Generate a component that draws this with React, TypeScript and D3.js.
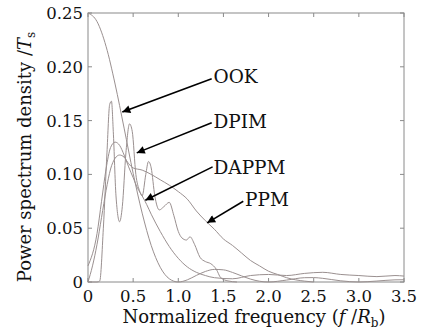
import React from "react";
import * as d3 from "d3";

// ---- data ----
const xTicks = [0, 0.5, 1.0, 1.5, 2.0, 2.5, 3.0, 3.5];
const xTickLabels = ["0", "0.5", "1.0", "1.5", "2.0", "2.5", "3.0", "3.5"];
const yTicks = [0, 0.05, 0.1, 0.15, 0.2, 0.25];
const yTickLabels = ["0", "0.05", "0.10", "0.15", "0.20", "0.25"];

const ookFreq = [0, 0.1, 0.2, 0.3, 0.4, 0.5, 0.6, 0.7, 0.8, 0.9, 1.0, 1.1, 1.2, 1.3, 1.4, 1.5, 1.6, 1.7, 1.8, 1.9, 2.0, 2.2, 2.4, 2.5, 2.6, 2.8, 3.0, 3.2, 3.4, 3.5];
const ookPsd = [0.25, 0.242, 0.219, 0.184, 0.143, 0.101, 0.064, 0.034, 0.0137, 0.003, 0, 0.002, 0.0061, 0.0098, 0.0117, 0.0113, 0.0089, 0.0057, 0.0027, 0.0007, 0, 0.0018, 0.004, 0.0041, 0.0034, 0.0011, 0, 0.0009, 0.002, 0.0021];

const dpimFreq = [0, 0.1, 0.13, 0.17, 0.21, 0.24, 0.26, 0.28, 0.31, 0.35, 0.38, 0.42, 0.46, 0.49, 0.53, 0.57, 0.6, 0.64, 0.67, 0.7, 0.74, 0.79, 0.84, 0.9, 0.95, 1.0, 1.04, 1.09, 1.13, 1.18, 1.24, 1.3, 1.36, 1.42, 1.47, 1.55, 1.65];
const dpimPsd = [0, 0, 0.001, 0.05, 0.12, 0.165, 0.168, 0.14, 0.08, 0.056, 0.07, 0.12, 0.147, 0.14, 0.1, 0.085, 0.08, 0.1, 0.112, 0.106, 0.08, 0.067, 0.07, 0.074, 0.062, 0.047, 0.041, 0.039, 0.042, 0.035, 0.023, 0.019, 0.017, 0.012, 0.004, 0.001, 0];

const dappmFreq = [0, 0.1, 0.15, 0.2, 0.25, 0.3, 0.35, 0.4, 0.45, 0.5, 0.55, 0.6, 0.65, 0.7, 0.8, 0.9, 1.0, 1.1, 1.2, 1.3, 1.4, 1.6, 1.8, 2.0, 2.2, 2.4, 2.6, 2.8, 3.0, 3.2, 3.4, 3.5];
const dappmPsd = [0.015, 0.045, 0.075, 0.105, 0.125, 0.13, 0.127, 0.118, 0.107, 0.097, 0.087, 0.08, 0.072, 0.063, 0.047, 0.033, 0.022, 0.014, 0.009, 0.006, 0.004, 0.003, 0.006, 0.007, 0.006, 0.008, 0.009, 0.007, 0.006, 0.005, 0.006, 0.0055];

const ppmFreq = [0, 0.05, 0.1, 0.15, 0.2, 0.25, 0.3, 0.35, 0.4, 0.45, 0.5, 0.6, 0.7, 0.8, 0.9, 1.0, 1.1, 1.2, 1.3, 1.4, 1.5, 1.6, 1.7, 1.8, 1.9, 2.0, 2.1, 2.2, 2.3, 2.4, 2.5];
const ppmPsd = [0, 0.015, 0.035, 0.06, 0.085, 0.105, 0.115, 0.118, 0.116, 0.11, 0.106, 0.104, 0.1, 0.095, 0.09, 0.084, 0.077, 0.066, 0.057, 0.049, 0.04, 0.034, 0.027, 0.02, 0.015, 0.01, 0.007, 0.004, 0.002, 0.0008, 0];

const seriesNames = ["OOK", "DPIM", "DAPPM", "PPM"];

export default function App() {
  const W = 434, H = 334;
  const x = d3.scaleLinear().domain([0, 3.5]).range([88, 404]);
  const y = d3.scaleLinear().domain([0, 0.25]).range([282, 13]);
  const line = d3.line<[number, number]>().x(d => x(d[0])).y(d => y(d[1])).curve(d3.curveMonotoneX);
  const series = [
    { f: ookFreq, v: ookPsd },
    { f: dpimFreq, v: dpimPsd },
    { f: dappmFreq, v: dappmPsd },
    { f: ppmFreq, v: ppmPsd },
  ];
  const font = "'DejaVu Serif', serif";
  const axisColor = "#8a8a8a";
  const curveColor = "#9a9090";

  // annotations: label position and arrow tip expressed in data space
  const notes = [
    { name: seriesNames[0], tx: 1.39, ty: 0.185, sx: 1.37, sy: 0.189, ex: 0.38, ey: 0.158 },
    { name: seriesNames[1], tx: 1.39, ty: 0.143, sx: 1.37, sy: 0.148, ex: 0.54, ey: 0.12 },
    { name: seriesNames[2], tx: 1.39, ty: 0.1, sx: 1.38, sy: 0.107, ex: 0.635, ey: 0.076 },
    { name: seriesNames[3], tx: 1.74, ty: 0.071, sx: 1.72, sy: 0.075, ex: 1.32, ey: 0.055 },
  ];

  return (
    <svg width={W} height={H} style={{ position: "absolute", left: 0, top: 0, background: "#fff" }}>
      <defs>
        <marker id="ah" viewBox="0 0 10 10" refX="10" refY="5" markerWidth="11" markerHeight="8" markerUnits="userSpaceOnUse" orient="auto">
          <path d="M0,0 L10,5 L0,10 z" fill="#000" />
        </marker>
      </defs>
      <rect x={0} y={0} width={W} height={H} fill="#fff" />
      {/* frame */}
      <rect x={x(0)} y={y(0.25)} width={x(3.5) - x(0)} height={y(0) - y(0.25)} fill="none" stroke={axisColor} strokeWidth={1} />
      {xTicks.map((t, i) => (
        <g key={"xt" + i}>
          <line x1={x(t)} x2={x(t)} y1={y(0)} y2={y(0) - 4} stroke={axisColor} />
          <line x1={x(t)} x2={x(t)} y1={y(0.25)} y2={y(0.25) + 4} stroke={axisColor} />
          <text x={x(t)} y={302} textAnchor="middle" fontFamily={font} fontSize={16.5} fill="#111">{xTickLabels[i]}</text>
        </g>
      ))}
      {yTicks.map((t, i) => (
        <g key={"yt" + i}>
          <line x1={x(0)} x2={x(0) + 4} y1={y(t)} y2={y(t)} stroke={axisColor} />
          <line x1={x(3.5)} x2={x(3.5) - 4} y1={y(t)} y2={y(t)} stroke={axisColor} />
          <text x={83} y={y(t) + 6} textAnchor="end" fontFamily={font} fontSize={16.5} fill="#111">{yTickLabels[i]}</text>
        </g>
      ))}
      {/* curves */}
      {series.map((s, i) => (
        <path key={"s" + i} d={line(s.f.map((f, j) => [f, s.v[j]] as [number, number])) || ""} fill="none" stroke={curveColor} strokeWidth={1} />
      ))}
      {/* annotations */}
      {notes.map((n, i) => (
        <g key={"n" + i}>
          <line x1={x(n.sx)} y1={y(n.sy)} x2={x(n.ex)} y2={y(n.ey)} stroke="#000" strokeWidth={1.6} markerEnd="url(#ah)" />
          <text x={x(n.tx)} y={y(n.ty)} fontFamily={font} fontSize={18.5} fill="#111">{n.name}</text>
        </g>
      ))}
      {/* axis labels */}
      <text x={W / 2 + 37} y={323} textAnchor="middle" fontFamily={font} fontSize={18} fill="#111">
        Normalized frequency (<tspan fontStyle="italic">f</tspan> /<tspan fontStyle="italic">R</tspan><tspan fontSize={12} dy={4}>b</tspan><tspan dy={-4}>)</tspan>
      </text>
      <text transform={`translate(31,${157}) rotate(-90)`} textAnchor="middle" fontFamily={font} fontSize={18} fill="#111">
        Power spectrum density /<tspan fontStyle="italic">T</tspan><tspan fontSize={12} dy={4}>s</tspan>
      </text>
    </svg>
  );
}
